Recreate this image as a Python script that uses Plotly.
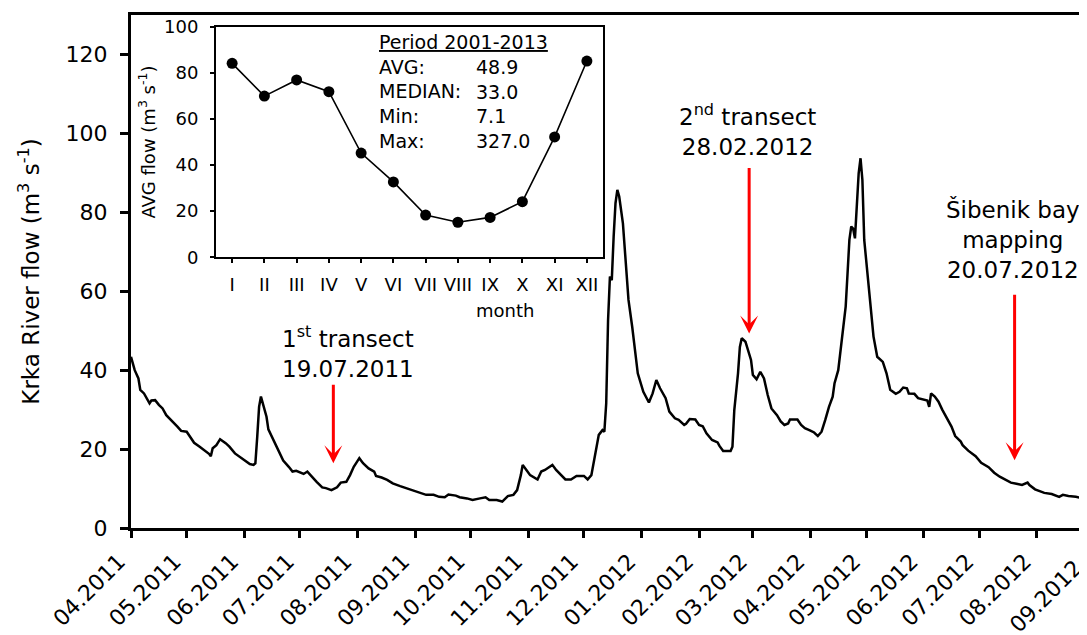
import pandas as pd
import plotly.graph_objects as go

# ---------------- data ----------------
start_date = "2011-04-01"
end_date = "2012-08-28"

# day offset from 2011-04-01 and daily flow (m3/s)
day_offset = [0, 1, 2, 4, 5, 7, 8, 10, 11, 13, 15, 17, 19, 22, 24, 25, 27, 30, 32, 34,
              37, 40, 42, 43, 44, 46, 48, 51, 53, 56, 59, 61, 64, 66, 67, 68, 69, 70, 71, 73,
              74, 76, 78, 80, 82, 85, 87, 89, 91, 93, 95, 97, 100, 103, 105, 108, 111, 113, 116, 118,
              120, 123, 125, 128, 131, 132, 135, 138, 141, 145, 149, 152, 156, 159, 163, 166, 169, 171, 175, 177,
              181, 184, 188, 191, 193, 197, 200, 201, 203, 206, 208, 210, 211, 213, 215, 219, 221, 223, 225, 227,
              229, 232, 234, 237, 240, 244, 246, 248, 250, 252, 254, 255, 256, 257, 258, 259, 260, 261, 262, 263,
              265, 268, 270, 272, 273, 276, 279, 281, 283, 285, 288, 290, 293, 295, 298, 299, 301, 304, 306, 308,
              310, 313, 316, 317, 319, 323, 324, 325, 327, 328, 329, 331, 334, 335, 337, 339, 341, 343, 345, 348,
              350, 352, 354, 355, 359, 361, 363, 366, 368, 370, 372, 374, 376, 378, 379, 381, 383, 385, 386, 387,
              388, 389, 390, 391, 392, 393, 394, 395, 397, 399, 400, 402, 405, 407, 409, 412, 414, 416, 418, 419,
              422, 424, 426, 429, 430, 431, 433, 435, 437, 440, 442, 444, 447, 448, 451, 455, 458, 462, 465, 468,
              471, 474, 477, 480, 483, 484, 487, 490, 492, 496, 500, 502, 505, 509, 513, 515]
flow = [43.4, 41.7, 40.0, 37.9, 35.0, 34.1, 33.3, 31.6, 32.3, 32.4, 31.2, 30.3, 28.6, 27.2, 26.1, 25.7, 24.6, 24.4, 23.0, 21.6,
        20.6, 19.6, 18.8, 18.2, 20.2, 21.0, 22.5, 21.5, 20.6, 18.9, 17.9, 17.1, 16.2, 16.0, 16.4, 23.1, 30.7, 33.3, 31.6, 28.2,
        25.0, 23.1, 21.0, 18.9, 17.1, 15.5, 14.3, 14.5, 14.0, 13.7, 14.3, 13.2, 11.7, 10.3, 10.1, 9.6, 10.3, 11.5, 11.7, 13.4,
        15.5, 17.7, 16.4, 15.1, 14.3, 13.2, 12.8, 12.2, 11.3, 10.6, 10.0, 9.5, 8.9, 8.4, 8.4, 7.9, 7.8, 8.5, 8.2, 7.8,
        7.5, 7.1, 7.5, 7.8, 7.1, 7.1, 6.7, 7.1, 8.1, 8.4, 9.6, 13.4, 16.0, 14.7, 13.4, 12.3, 14.3, 14.7, 15.3, 16.0,
        14.7, 13.4, 12.3, 12.3, 13.2, 13.2, 12.3, 13.4, 18.9, 23.6, 24.8, 24.4, 31.6, 52.7, 63.7, 62.8, 73.8, 82.3, 85.7, 84.0,
        77.2, 57.8, 51.0, 43.4, 39.2, 34.5, 31.8, 34.1, 37.5, 35.4, 32.9, 29.5, 27.8, 27.4, 26.1, 26.4, 27.6, 27.5, 26.1, 25.8,
        24.0, 22.3, 21.7, 20.8, 19.5, 19.5, 20.6, 29.9, 39.2, 45.9, 48.1, 47.2, 42.6, 38.8, 37.7, 39.6, 37.9, 33.7, 30.3, 28.6,
        27.0, 26.1, 26.5, 27.5, 27.5, 26.1, 25.3, 24.7, 24.2, 23.3, 24.4, 27.4, 30.7, 33.3, 36.7, 40.0, 47.6, 56.1, 64.5, 73.0,
        76.4, 75.9, 73.4, 81.4, 89.9, 93.7, 88.2, 73.0, 62.8, 54.4, 48.5, 43.4, 42.1, 39.2, 35.0, 34.0, 34.5, 35.6, 35.4, 34.1,
        34.0, 32.9, 32.6, 32.3, 30.7, 34.1, 33.3, 32.0, 30.0, 27.4, 25.7, 23.3, 21.9, 21.0, 19.6, 18.2, 16.5, 15.4, 14.0, 13.0,
        12.2, 11.5, 11.2, 10.9, 11.5, 10.9, 9.8, 9.2, 8.9, 8.6, 7.9, 8.4, 8.1, 7.9, 7.5, 7.1]

# inset: monthly average flow 2001-2013
months = ["I", "II", "III", "IV", "V", "VI", "VII", "VIII", "IX", "X", "XI", "XII"]
monthly_avg = [84.1, 69.9, 76.9, 71.8, 45.2, 32.7, 18.3, 15.2, 17.3, 24.1, 52.2, 85.1]

stats_title = "Period 2001-2013"
stats_labels = ["AVG:", "MEDIAN:", "Min:", "Max:"]
stats_values = ["48.9", "33.0", "7.1", "327.0"]

# sampling events: date, arrow tip value, arrow tail value, label text
event_dates = ["2011-07-19", "2012-02-28", "2012-07-20"]
event_tip = [16.4, 49.3, 17.2]
event_tail = [36.7, 91.6, 59.5]
event_text = ["1<sup>st</sup> transect<br>19.07.2011",
              "2<sup>nd</sup> transect<br>28.02.2012",
              "Šibenik bay<br>mapping<br>20.07.2012"]
event_text_x = ["2011-07-27", "2012-02-27", "2012-07-19"]
event_text_y = [44.6, 100.9, 73.0]

extra_tick_date = "2012-09-01"
extra_tick_text = "09.2012"

# ---------------- figure ----------------
FONT = "DejaVu Sans"
dates = pd.Timestamp(start_date) + pd.to_timedelta(day_offset, unit="D")

fig = go.Figure()
fig.add_trace(go.Scatter(x=dates, y=flow, mode="lines",
                         line=dict(color="black", width=2.5),
                         xaxis="x", yaxis="y", showlegend=False, hoverinfo="skip"))
fig.add_trace(go.Scatter(x=months, y=monthly_avg, mode="lines+markers",
                         line=dict(color="black", width=1.6),
                         marker=dict(color="black", size=11),
                         xaxis="x2", yaxis="y2", showlegend=False, hoverinfo="skip"))

# the page body adds an 8 px margin, so the figure is laid out 8 px smaller
OFF = 8
W, H = 1087 - OFF, 635 - OFF
L, R, T = 131 - OFF, 0, 15 - OFF
B = H - (528 - OFF)
pw, ph = W - L - R, H - T - B


def px_x(p):
    return (p - OFF - L) / pw


def px_y(p):
    return (H - B - (p - OFF)) / ph


fig.update_layout(
    width=W, height=H,
    margin=dict(l=L, r=R, t=T, b=B, pad=0, autoexpand=False),
    paper_bgcolor="white", plot_bgcolor="white",
    font=dict(family=FONT, color="black", size=22),
    showlegend=False,
    xaxis=dict(
        type="date", range=[start_date, end_date], domain=[0, 1], anchor="y",
        tick0=start_date, dtick="M1", tickformat="%m.%Y", tickangle=-45,
        ticks="outside", ticklen=7, tickwidth=2.5, tickcolor="black",
        showline=True, linewidth=3, linecolor="black", mirror=True,
        showgrid=False, zeroline=False, tickfont=dict(size=22),
        ticklabelshift=-12, ticklabelstandoff=2, automargin=False,
    ),
    yaxis=dict(
        range=[0, 130], domain=[0, 1], anchor="x",
        tickvals=[0, 20, 40, 60, 80, 100, 120],
        ticks="outside", ticklen=8, tickwidth=2.5, tickcolor="black",
        showline=True, linewidth=3, linecolor="black",
        showgrid=False, zeroline=False, tickfont=dict(size=22),
        ticklabelstandoff=8, automargin=False,
        title=dict(text="Krka River flow (m<sup>3</sup> s<sup>-1</sup>)",
                   font=dict(size=23), standoff=20),
    ),
    xaxis2=dict(
        type="category", categoryorder="array", categoryarray=months,
        range=[-0.5, 11.5], domain=[px_x(216), px_x(603)], anchor="y2",
        ticks="outside", ticklen=4, tickwidth=1.5, tickcolor="black",
        showline=True, linewidth=2, linecolor="black", mirror=True,
        showgrid=False, zeroline=False, tickangle=0,
        tickfont=dict(size=18), ticklabelstandoff=6, automargin=False,
    ),
    yaxis2=dict(
        range=[0, 100], domain=[px_y(257.3), px_y(26.7)], anchor="x2",
        dtick=20, ticks="outside", ticklen=4, tickwidth=1.5, tickcolor="black",
        showline=True, linewidth=2, linecolor="black", mirror=True,
        showgrid=False, zeroline=False, tickfont=dict(size=18),
        ticklabelstandoff=8, automargin=False,
        title=dict(text="AVG flow (m<sup>3</sup> s<sup>-1</sup>)",
                   font=dict(size=18), standoff=4),
    ),
)

annotations = []
# event labels and red arrows
for d, tip, tail, txt, tx, ty in zip(event_dates, event_tip, event_tail,
                                     event_text, event_text_x, event_text_y):
    annotations.append(dict(x=tx, y=ty, xref="x", yref="y", text=txt,
                            showarrow=False, font=dict(size=23),
                            xanchor="center", yanchor="middle", align="center"))
    annotations.append(dict(x=d, y=tip, xref="x", yref="y",
                            ax=d, ay=tail, axref="x", ayref="y", text="",
                            showarrow=True, arrowhead=3, arrowsize=1.0,
                            arrowwidth=3, arrowcolor="#ff0000", standoff=0))

# inset statistics block
annotations.append(dict(
    x=px_x(377), y=px_y(29), xref="paper", yref="paper",
    text="<u>" + stats_title + "</u><br>" + "<br>".join(stats_labels),
    showarrow=False, align="left", xanchor="left", yanchor="top",
    font=dict(size=19)))
annotations.append(dict(
    x=px_x(474), y=px_y(54), xref="paper", yref="paper",
    text="<br>".join(stats_values),
    showarrow=False, align="left", xanchor="left", yanchor="top",
    font=dict(size=19)))
# inset x-axis title
annotations.append(dict(x=px_x(505), y=px_y(310), xref="paper", yref="paper",
                        text="month", showarrow=False, font=dict(size=18),
                        xanchor="center", yanchor="middle"))
# tick label of the month just past the right edge (partly cut off)
t0 = pd.Timestamp(start_date)
frac = (pd.Timestamp(extra_tick_date) - t0) / (pd.Timestamp(end_date) - t0)
annotations.append(dict(x=frac, y=0, xref="paper", yref="paper",
                        text=extra_tick_text, textangle=-45, showarrow=False,
                        font=dict(size=22), xanchor="center", yanchor="middle",
                        xshift=-49, yshift=-68))

fig.update_layout(annotations=annotations)
fig.write_html("out.html")
